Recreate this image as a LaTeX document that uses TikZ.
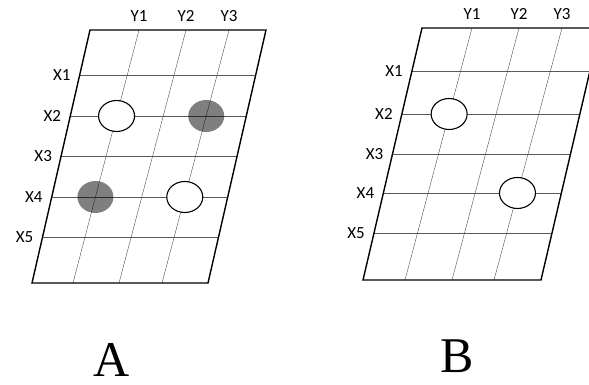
\documentclass[tikz,border=0pt]{standalone}
\usepackage{fontspec}
\setmainfont{Liberation Serif}
\newfontfamily\labelfont{Carlito}
\usepackage{tikz}
\usetikzlibrary{calc,shapes.geometric}

\tikzset{
  frame/.style={line width=1.4pt, line join=miter},
  gridrow/.style={black!65, line width=0.6pt},
  gridcol/.style={black!70, line width=0.4pt},
  axislabel/.style={font=\labelfont\fontsize{17}{19}\selectfont, inner sep=1pt},
  opendot/.style={ellipse, draw, fill=white, line width=1.1pt, minimum width=36pt, minimum height=31pt, inner sep=0pt},
  filldot/.style={ellipse, fill=black, fill opacity=0.5, minimum width=36pt, minimum height=32pt, inner sep=0pt},
  panelname/.style={font=\fontsize{50}{55}\selectfont, anchor=base, inner sep=0pt, text depth=0pt}
}

\begin{document}
\begin{tikzpicture}[x=1pt, y=-1pt]
    \useasboundingbox (0,0) rectangle (589,385);
    \clip (0,0) rectangle (589,385);

    % Panel A corners
    \coordinate (a-tl) at (90,30);
    \coordinate (a-tr) at (266,30);
    \coordinate (a-br) at (208,283);
    \coordinate (a-bl) at (32,283);

    % Rows X1..X5
    \foreach \y [count=\i] in {75,116,156,197,237} {
        \coordinate (a-l\i) at ($(a-tl)!{(\y-30)/253}!(a-bl)$);
        \coordinate (a-r\i) at ($(a-tr)!{(\y-30)/253}!(a-br)$);
        \draw[gridrow] (a-l\i) -- (a-r\i);
        \node[axislabel, left=8pt] (a-x\i) at (a-l\i) {X\i};
    }

    % Columns Y1..Y3
    \foreach \t/\b [count=\j] in {139/73,186/119,229/162} {
        \coordinate (a-t\j) at (\t,30);
        \coordinate (a-b\j) at (\b,283);
        \draw[gridcol] (a-t\j) -- (a-b\j);
        \node[axislabel, above=7pt] (a-y\j) at (a-t\j) {Y\j};
    }

    \draw[frame] (a-tl) -- (a-tr) -- (a-br) -- (a-bl) -- cycle;

    % Dots in A
    \node[filldot] (a-x2y3) at (intersection of a-l2--a-r2 and a-t3--a-b3) {};
    \node[filldot] (a-x4y1) at (intersection of a-l4--a-r4 and a-t1--a-b1) {};
    \node[opendot] (a-x2y1) at (intersection of a-l2--a-r2 and a-t1--a-b1) {};
    \node[opendot] (a-x4y3) at (intersection of a-l4--a-r4 and a-t3--a-b3) {};

    % Panel B corners
    \coordinate (b-tl) at (422,28);
    \coordinate (b-tr) at (600,28);
    \coordinate (b-br) at (541,280);
    \coordinate (b-bl) at (363,280);

    \foreach \y [count=\i] in {71,114,154,193,233} {
        \coordinate (b-l\i) at ($(b-tl)!{(\y-28)/252}!(b-bl)$);
        \coordinate (b-r\i) at ($(b-tr)!{(\y-28)/252}!(b-br)$);
        \draw[gridrow] (b-l\i) -- (b-r\i);
        \node[axislabel, left=8pt] (b-x\i) at (b-l\i) {X\i};
    }

    \foreach \t/\b [count=\j] in {472/405,519/452,562/494} {
        \coordinate (b-t\j) at (\t,28);
        \coordinate (b-b\j) at (\b,280);
        \draw[gridcol] (b-t\j) -- (b-b\j);
        \node[axislabel, above=7pt] (b-y\j) at (b-t\j) {Y\j};
    }

    \draw[frame] (b-tl) -- (b-tr) -- (b-br) -- (b-bl) -- cycle;

    % Dots in B
    \node[opendot] (b-x2y1) at (intersection of b-l2--b-r2 and b-t1--b-b1) {};
    \node[opendot] (b-x4y3) at (intersection of b-l4--b-r4 and b-t3--b-b3) {};

    % Panel names
    \node[panelname] (a-name) at (112,376) {A};
    \node[panelname] (b-name) at (457,372) {B};
\end{tikzpicture}
\end{document}
